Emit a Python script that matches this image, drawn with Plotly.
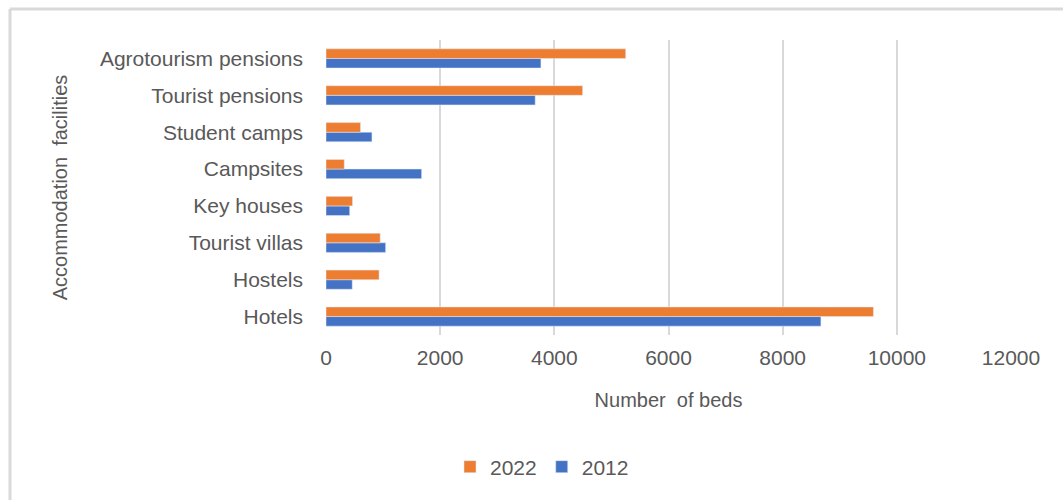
import plotly.graph_objects as go

# Categories listed bottom-to-top (as drawn on the category axis)
categories = ["Hotels", "Hostels", "Tourist villas", "Key houses", "Campsites",
              "Student camps", "Tourist pensions", "Agrotourism pensions"]
beds_2012 = [8670, 460, 1045, 415, 1675, 805, 3665, 3765]
beds_2022 = [9590, 930, 950, 465, 320, 605, 4495, 5250]
x_ticks = [0, 2000, 4000, 6000, 8000, 10000, 12000]

ORANGE = "#ED7D31"
BLUE = "#4472C4"
GRID = "#D9D9D9"
TXT = "#595959"
FONT = "Liberation Sans, Arial, sans-serif"

W, H = 1063, 500
L, R, T, B = 326, 52, 40, 165
pw, ph = W - L - R, H - T - B

def px_x(p):
    return (p - L) / pw

def px_y(p):
    return (H - B - p) / ph

fig = go.Figure()
fig.add_trace(go.Bar(y=categories, x=beds_2012, name="2012", orientation="h",
                     marker=dict(color=BLUE), legendrank=2))
fig.add_trace(go.Bar(y=categories, x=beds_2022, name="2022", orientation="h",
                     marker=dict(color=ORANGE), legendrank=1))

fig.update_layout(
    width=W, height=H,
    margin=dict(l=L, r=R, t=T, b=B, autoexpand=False),
    paper_bgcolor="white", plot_bgcolor="white",
    barmode="group", bargap=0.48, bargroupgap=0,
    font=dict(family=FONT, size=21, color=TXT),
    showlegend=True,
    legend=dict(orientation="h", x=px_x(542), y=px_y(467), xanchor="center",
                yanchor="middle", font=dict(size=21, color=TXT),
                itemwidth=30, tracegroupgap=0),
    xaxis=dict(range=[0, 12000], tickvals=x_ticks, ticktext=[str(v) for v in x_ticks],
               showgrid=True, gridcolor=GRID, gridwidth=2, zeroline=False,
               showline=False, ticks="", ticklabelstandoff=8,
               tickfont=dict(size=21, color=TXT), automargin=False,
               title=dict(text="Number  of beds", font=dict(size=20, color=TXT), standoff=24)),
    yaxis=dict(type="category", categoryorder="array", categoryarray=categories,
               showgrid=False, zeroline=False, showline=False, ticks="",
               ticklabelstandoff=22, tickfont=dict(size=21, color=TXT), automargin=False,
               title=dict(text="Accommodation  facilities", font=dict(size=20, color=TXT), standoff=26)),
    shapes=[
        dict(type="line", xref="paper", yref="paper", x0=px_x(10), x1=px_x(1063),
             y0=px_y(9), y1=px_y(9), line=dict(color=GRID, width=3)),
        dict(type="line", xref="paper", yref="paper", x0=px_x(10), x1=px_x(10),
             y0=px_y(9), y1=px_y(500), line=dict(color=GRID, width=3)),
    ],
)

fig.write_html("out.html")
